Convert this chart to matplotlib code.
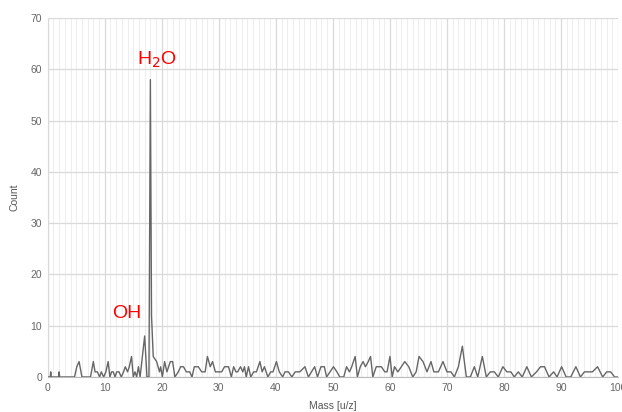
import matplotlib
matplotlib.use("Agg")
import matplotlib.pyplot as plt
from matplotlib.ticker import MultipleLocator

plt.rcParams['font.family'] = ['Liberation Sans', 'DejaVu Sans']

mass = [0.0, 0.45, 0.53, 0.6, 1.9, 2.0, 2.1, 4.7, 5.1, 5.5, 6.0, 7.5, 8.0, 8.3, 8.7, 9.1,
        9.4, 9.8, 10.2, 10.6, 10.9, 11.2, 11.5, 11.8, 12.1, 12.5, 12.9, 13.3, 13.6, 14.0,
        14.3, 14.7, 15.0, 15.3, 15.6, 15.9, 16.2, 16.6, 17.0, 17.4, 17.75, 18.0, 18.2, 18.5,
        19.1, 19.6, 19.8, 20.1, 20.5, 20.9, 21.5, 21.9, 22.3, 22.9, 23.3, 23.8, 24.3, 24.9,
        25.3, 25.7, 26.4, 27.0, 27.6, 28.0, 28.5, 28.9, 29.4, 29.9, 30.5, 31.0, 31.7, 32.2,
        32.6, 33.0, 33.3, 33.8, 34.2, 34.5, 34.8, 35.2, 35.6, 36.1, 36.6, 37.2, 37.6, 38.0,
        38.6, 39.1, 39.5, 40.1, 40.6, 41.2, 41.6, 42.2, 42.8, 43.4, 44.2, 45.1, 45.7, 46.8,
        47.3, 47.9, 48.5, 48.9, 50.1, 50.7, 51.2, 51.9, 52.4, 52.9, 53.3, 53.9, 54.3, 54.8,
        55.3, 55.7, 56.2, 56.6, 57.0, 57.6, 58.5, 59.1, 59.5, 60.0, 60.4, 60.8, 61.4, 62.0,
        62.6, 63.3, 64.0, 64.6, 65.1, 65.8, 66.5, 67.2, 67.7, 68.5, 69.3, 70.0, 70.7, 71.3,
        72.0, 72.7, 73.4, 74.1, 74.8, 75.4, 76.2, 76.9, 77.6, 78.3, 79.0, 79.8, 80.5, 81.2,
        81.8, 82.5, 83.2, 84.0, 84.8, 85.7, 86.4, 87.1, 87.9, 88.7, 89.3, 90.1, 90.9, 91.7,
        92.6, 93.4, 94.1, 95.5, 96.4, 97.3, 98.0, 98.7, 99.4, 100.0]
count = [0, 0, 1, 0, 0, 1, 0, 0, 2, 3, 0, 0, 3, 1, 1, 0,
         1, 0, 1, 3, 0, 1, 1, 0, 1, 1, 0, 1, 2, 1,
         2, 4, 0, 1, 0, 2, 0, 4, 8, 0, 0, 58, 12, 4,
         3, 1, 2, 0, 3, 1, 3, 3, 0, 1, 2, 2, 1, 1,
         0, 2, 2, 1, 1, 4, 2, 3, 1, 1, 1, 2, 2, 0,
         2, 1, 1, 2, 1, 2, 0, 2, 0, 1, 1, 3, 1, 2,
         0, 1, 1, 3, 1, 0, 1, 1, 0, 1, 1, 2, 0, 2,
         0, 2, 2, 0, 2, 1, 0, 0, 2, 1, 2, 4, 0, 2,
         3, 2, 3, 4, 0, 2, 2, 1, 1, 4, 0, 2, 1, 2,
         3, 2, 0, 1, 4, 3, 1, 3, 1, 1, 3, 1, 1, 0,
         2, 6, 0, 0, 2, 0, 4, 0, 1, 1, 0, 2, 1, 1,
         0, 1, 0, 2, 0, 1, 2, 2, 0, 1, 0, 2, 0, 0,
         2, 0, 1, 1, 2, 0, 1, 1, 0, 0]

labels = ["H$_2$O", "OH"]
label_pos = [(19.1, 61.8), (13.9, 12.4)]

fig = plt.figure(figsize=(6.22, 4.12), dpi=100)
ax = fig.add_axes([0.0767, 0.085, 0.917, 0.871])
ax.plot(mass, count, color='#666666', lw=1.0, zorder=3)

ax.set_xlim(0, 100)
ax.set_ylim(0, 70)
ax.xaxis.set_major_locator(MultipleLocator(10))
ax.xaxis.set_minor_locator(MultipleLocator(1))
ax.yaxis.set_major_locator(MultipleLocator(10))
ax.grid(which='major', color='#d9d9d9', lw=0.9)
ax.grid(which='minor', axis='x', color='#eeeeee', lw=0.8)
ax.set_axisbelow(True)
for s in ['top', 'right']:
    ax.spines[s].set_visible(False)
ax.spines['left'].set_color('#d9d9d9')
ax.spines['bottom'].set_color('#bbbbbb')
ax.tick_params(which='both', length=0, labelsize=7.5, labelcolor='#666666')
ax.tick_params(axis='y', pad=4)
ax.tick_params(axis='x', pad=4)
ax.set_xlabel('Mass [u/z]', fontsize=7.5, color='#555555', labelpad=6)
ax.set_ylabel('Count', fontsize=7.5, color='#555555', labelpad=8)

for t, (x, y) in zip(labels, label_pos):
    ax.text(x, y, t, color='#ff0000', fontsize=14, ha='center', va='center')

fig.savefig('out.png', dpi=100)
